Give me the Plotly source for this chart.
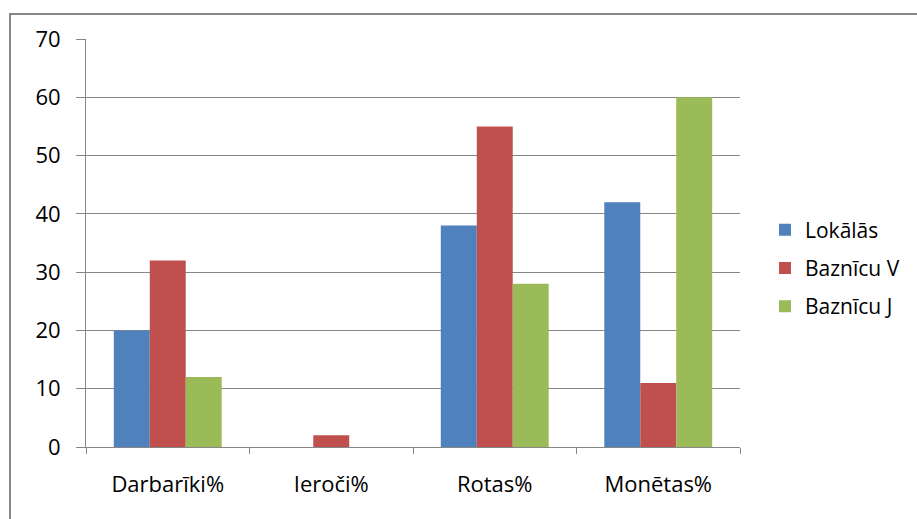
import plotly.graph_objects as go

categories = ["Darbarīki%", "Ieroči%", "Rotas%", "Monētas%"]
lokalas = [20, 0, 38, 42]
baznicu_v = [32, 2, 55, 11]
baznicu_j = [12, 0, 28, 60]
series_names = ["Lokālās", "Baznīcu V", "Baznīcu J"]
colors = ["#4F81BD", "#C0504D", "#9BBB59"]
y_ticks = [0, 10, 20, 30, 40, 50, 60, 70]

W, H = 917, 519
L, T = 86, 39
R = W - 740
B = H - 447
pw, ph = W - L - R, H - T - B

fig = go.Figure()
for i, (name, vals) in enumerate(zip(series_names, [lokalas, baznicu_v, baznicu_j])):
    fig.add_trace(go.Bar(x=categories, y=vals, name=name, marker_color=colors[i],
                         marker_line_width=0, legendgroup=f"g{i}"))

tick_font = dict(family="Open Sans", size=22, color="#000000")
leg_font = dict(family="Open Sans", size=21, color="#000000")
grid = "#868686"

fig.update_layout(
    width=W, height=H,
    margin=dict(l=L, r=R, t=T, b=B, autoexpand=False),
    paper_bgcolor="white", plot_bgcolor="white",
    barmode="group", bargap=0.34, bargroupgap=0,
    font=tick_font,
    showlegend=True,
    legend=dict(x=(765 - L) / pw, y=(447 - 268) / ph, xanchor="left", yanchor="middle",
                traceorder="grouped", tracegroupgap=8, font=leg_font,
                bgcolor="rgba(0,0,0,0)", itemwidth=30),
    xaxis=dict(showline=True, linecolor=grid, linewidth=1, ticks="outside", ticklen=6,
               tickcolor=grid, tickson="boundaries", showgrid=False, ticklabelstandoff=18,
               tickfont=tick_font, automargin=False),
    yaxis=dict(range=[0, 70], tickvals=y_ticks, showgrid=True, gridcolor=grid, gridwidth=1,
               showline=True, linecolor=grid, linewidth=1, ticks="outside", ticklen=9,
               tickcolor=grid, ticklabelstandoff=11, tickfont=tick_font, zeroline=False,
               automargin=False),
    shapes=[dict(type="rect", xref="paper", yref="paper",
                 x0=(10 - L) / pw, x1=(935 - L) / pw,
                 y0=-(540 - 447) / ph, y1=1 + (39 - 14) / ph,
                 line=dict(color="#868686", width=2), fillcolor="rgba(0,0,0,0)", layer="below")],
)

fig.write_html("out.html", config={"displayModeBar": False},
               post_script="document.body.style.margin='0';document.body.style.overflow='hidden';")
